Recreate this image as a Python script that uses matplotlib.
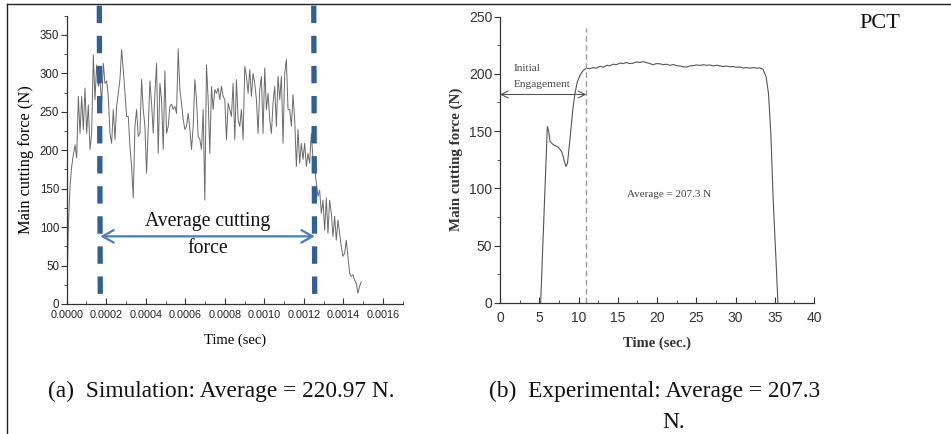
import numpy as np
import matplotlib
matplotlib.use("Agg")
import matplotlib.pyplot as plt
from matplotlib.ticker import MultipleLocator, FormatStrFormatter
from matplotlib.lines import Line2D

# ---------------- data ----------------
# (a) simulation: main cutting force sampled at a uniform time step
sim_t0 = 0.0
sim_dt = 8.42e-6  # s
sim_force = [
    0, 101, 153, 179, 194, 207, 190, 270, 222, 270, 227, 281, 222, 259, 201, 222,
    324, 266, 311, 283, 292, 261, 313, 287, 290, 270, 222, 209, 253, 214, 257, 274,
    292, 331, 305, 274, 244, 244, 205, 179, 138, 231, 253, 218, 222, 292, 253, 231,
    170, 231, 290, 261, 222, 274, 313, 196, 287, 266, 201, 303, 222, 231, 257, 260,
    253, 257, 248, 332, 279, 261, 240, 227, 231, 248, 227, 201, 231, 292, 266, 218,
    214, 201, 253, 135, 311, 266, 196, 283, 253, 279, 274, 281, 266, 283, 270, 266,
    214, 261, 253, 244, 287, 214, 292, 240, 231, 253, 214, 309, 296, 274, 305, 270,
    300, 287, 266, 222, 279, 296, 222, 307, 253, 274, 240, 222, 261, 283, 231, 296,
    266, 296, 209, 300, 318, 253, 253, 231, 272, 240, 179, 227, 183, 209, 188, 209,
    179, 196, 183, 222, 188, 175, 157, 140, 148, 118, 135, 96, 138, 92, 135, 118,
    88, 114, 83, 109, 92, 75, 62, 66, 83, 62, 40, 36, 38, 31, 27, 14, 23, 29,
]
sim_avg_start = 0.000165
sim_avg_end = 0.00125
sim_arrow_force = 88

# (b) experiment: main cutting force vs time (sec.)
exp_time = [
    5.18, 6.03, 6.2, 6.37, 6.8, 7.43, 7.86, 8.15, 8.4, 8.6, 8.9, 9.26, 9.55,
    9.85, 10.2, 10.6, 11.0, 11.4, 11.9, 12.3, 12.7, 13.2, 13.6, 14.0, 14.4, 14.8,
    15.3, 15.7, 16.1, 16.5, 17.0, 17.4, 17.8, 18.2, 18.7, 19.1, 19.5, 19.9, 20.4,
    20.8, 21.2, 21.6, 22.1, 22.5, 22.9, 23.3, 23.8, 24.2, 24.6, 25.0, 25.5, 25.9,
    26.3, 26.7, 27.2, 27.6, 28.0, 28.4, 28.9, 29.3, 29.7, 30.1, 30.6, 31.0, 31.4,
    31.8, 32.3, 32.7, 33.1, 33.5, 33.9, 34.2, 34.5, 34.8, 35.2, 35.4,
]
exp_force = [
    0, 154, 150, 141, 138, 136, 132, 125, 119, 122, 142, 168, 183,
    193, 199, 203, 205, 204.5, 205.5, 205, 206.5, 206, 207.5, 207, 208.5, 208,
    209.5, 209, 210, 209, 209.5, 210.5, 210, 210.8, 209.8, 209, 208, 209, 208.8,
    208, 208.5, 207.5, 208.2, 207.2, 207, 206.2, 206, 207, 207.2, 207.8, 207.5, 208,
    207.5, 207.8, 207, 207.6, 207, 206.5, 206.8, 206.2, 206.5, 205.8, 206, 205.2, 205.5,
    205, 205.5, 205, 205.3, 204, 197.5, 183, 148, 90, 31, 0,
]
exp_engage_end = 11.0
exp_arrow_force = 182
exp_average = 207.3

# ---------------- figure ----------------
serif = ["Liberation Serif", "DejaVu Serif"]
narrow = ["Liberation Sans Narrow", "Liberation Sans", "DejaVu Sans"]

fig = plt.figure(figsize=(9.51, 4.34), dpi=100)
fig.patch.set_facecolor("white")

# outer frame (top and left)
fig.add_artist(Line2D([7 / 951, 7 / 951], [0, 1 - 4 / 434], transform=fig.transFigure,
                      color="#222222", lw=1.0))
fig.add_artist(Line2D([7 / 951, 1], [1 - 4 / 434, 1 - 4 / 434], transform=fig.transFigure,
                      color="#222222", lw=1.0))

# ---- (a) simulation ----
ax1 = fig.add_axes([66.7 / 951, 1 - 304 / 434, 336 / 951, 288.3 / 434])
sim_time = sim_t0 + sim_dt * np.arange(len(sim_force))
ax1.plot(sim_time, sim_force, color="#6a6a6a", lw=0.7)
ax1.set_xlim(0, 0.0017)
ax1.set_ylim(0, 375)
for s in ("top", "right"):
    ax1.spines[s].set_visible(False)
for s in ("left", "bottom"):
    ax1.spines[s].set_color("#333333")
    ax1.spines[s].set_linewidth(0.9)
ax1.xaxis.set_major_locator(MultipleLocator(0.0002))
ax1.xaxis.set_minor_locator(MultipleLocator(0.0001))
ax1.xaxis.set_major_formatter(FormatStrFormatter("%.4f"))
ax1.yaxis.set_major_locator(MultipleLocator(50))
ax1.yaxis.set_minor_locator(MultipleLocator(25))
ax1.tick_params(axis="x", which="both", direction="in", color="#333333")
ax1.tick_params(axis="x", which="major", length=4, labelsize=7.8, pad=4)
ax1.tick_params(axis="x", which="minor", length=2.5)
ax1.tick_params(axis="y", which="both", direction="out", color="#333333")
ax1.tick_params(axis="y", which="major", length=4, labelsize=8.3, pad=1.5)
ax1.tick_params(axis="y", which="minor", length=2.5)
for lab in ax1.get_xticklabels() + ax1.get_yticklabels():
    lab.set_family(narrow)
    lab.set_color("#222222")
ax1.set_xlabel("Time (sec)", family=serif, fontsize=10.5, labelpad=10)
ax1.set_ylabel("Main cutting force (N)", family=serif, fontsize=11.8, labelpad=4)

for xv in (sim_avg_start, sim_avg_end):
    ax1.plot([xv, xv + 0.000005], [388, 0], color="#2f5f9c", lw=3.8,
             dashes=(3.3, 2.4), clip_on=False, solid_capstyle="butt")
ax1.annotate("", xy=(sim_avg_start + 0.000005, sim_arrow_force),
             xytext=(sim_avg_end + 0.000005, sim_arrow_force),
             arrowprops=dict(arrowstyle="<->,head_length=0.8,head_width=0.45",
                             color="#4a7dbd", lw=1.6, shrinkA=0, shrinkB=0))
ax1.text(0.000712, 107, "Average cutting", family=serif, fontsize=14.2,
         ha="center", va="center", color="#111111")
ax1.text(0.000712, 72, "force", family=serif, fontsize=14.2,
         ha="center", va="center", color="#111111")

# ---- (b) experiment ----
ax2 = fig.add_axes([500 / 951, 1 - 302.7 / 434, 314 / 951, 286 / 434])
ax2.plot(exp_time, exp_force, color="#555555", lw=0.8)
ax2.set_xlim(0, 40)
ax2.set_ylim(0, 250)
for s in ("top", "right"):
    ax2.spines[s].set_visible(False)
for s in ("left", "bottom"):
    ax2.spines[s].set_color("#333333")
    ax2.spines[s].set_linewidth(0.9)
ax2.xaxis.set_major_locator(MultipleLocator(5))
ax2.xaxis.set_minor_locator(MultipleLocator(2.5))
ax2.yaxis.set_major_locator(MultipleLocator(50))
ax2.yaxis.set_minor_locator(MultipleLocator(25))
ax2.tick_params(axis="x", which="both", direction="in", color="#333333")
ax2.tick_params(axis="x", which="major", length=4, labelsize=10, pad=6)
ax2.tick_params(axis="x", which="minor", length=2.5)
ax2.tick_params(axis="y", which="both", direction="out", color="#333333")
ax2.tick_params(axis="y", which="major", length=4, labelsize=10, pad=1.5)
ax2.tick_params(axis="y", which="minor", length=2.5)
for lab in ax2.get_xticklabels() + ax2.get_yticklabels():
    lab.set_family(narrow)
    lab.set_color("#333333")
ax2.set_xlabel("Time (sec.)", family=serif, fontsize=10.5, fontweight="bold",
               labelpad=8, color="#333333")
ax2.set_ylabel("Main cutting force (N)", family=serif, fontsize=10.8,
               fontweight="bold", labelpad=4, color="#333333")

ax2.plot([exp_engage_end, exp_engage_end], [0, 240], color="#999999", lw=1.0,
         dashes=(4, 2.5))
ax2.annotate("", xy=(0, exp_arrow_force), xytext=(exp_engage_end, exp_arrow_force),
             arrowprops=dict(arrowstyle="<->,head_length=0.5,head_width=0.25",
                             color="#555555", lw=0.8, shrinkA=0, shrinkB=0))
ax2.text(1.7, 205, "Initial", family=serif, fontsize=8.2, ha="left", va="center",
         color="#444444")
ax2.text(1.7, 191, "Engagement", family=serif, fontsize=8.2, ha="left", va="center",
         color="#444444")
ax2.text(16.2, 94.5, "Average = %.1f N" % exp_average, family=serif, fontsize=8,
         ha="left", va="center", color="#444444")

fig.text(880 / 951, 1 - 24 / 434, "PCT", family=serif, fontsize=16, ha="center",
         va="center", color="#111111")

# captions
fig.text(48 / 951, 1 - 391 / 434, "(a)  Simulation: Average = 220.97 N.", family=serif,
         fontsize=16.8, ha="left", va="center", color="#111111")
fig.text(489 / 951, 1 - 391 / 434, "(b)  Experimental: Average = 207.3", family=serif,
         fontsize=16.8, ha="left", va="center", color="#111111")
fig.text(674 / 951, 1 - 423 / 434, "N.", family=serif, fontsize=16.8, ha="center",
         va="center", color="#111111")

fig.savefig("out.png", dpi=100, facecolor="white")
